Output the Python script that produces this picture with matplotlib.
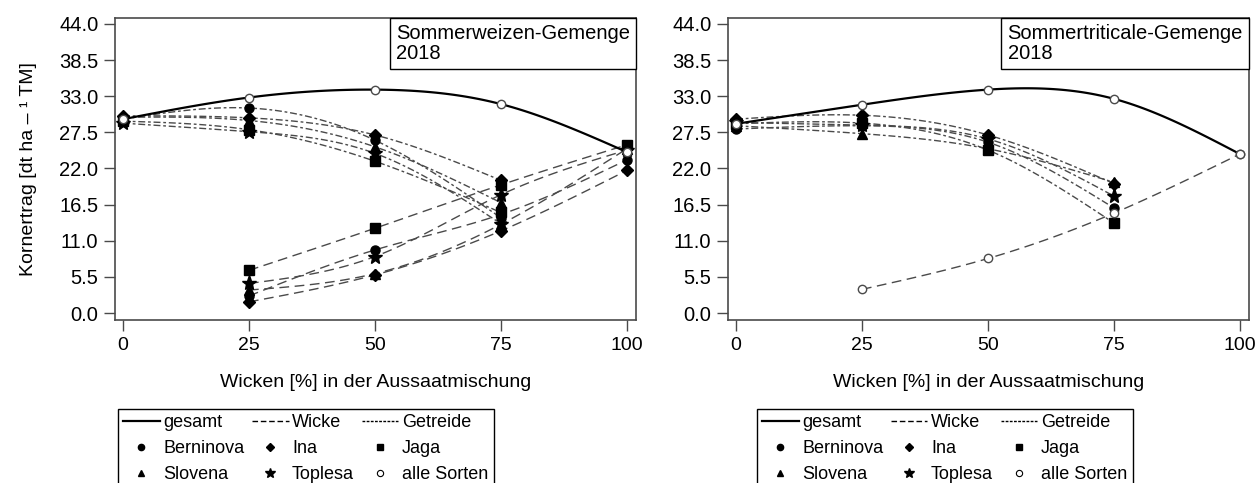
import numpy as np
import matplotlib
matplotlib.use("Agg")
import matplotlib.pyplot as plt
from matplotlib.lines import Line2D
from matplotlib.offsetbox import AnchoredText

plt.rcParams['font.family'] = ['Liberation Sans', 'DejaVu Sans']

# Wicken-Anteil in der Aussaatmischung [%]
anteil = [0, 25, 50, 75, 100]
sorten = ["Berninova", "Ina", "Jaga", "Slovena", "Toplesa"]
marker_sorte = {"Berninova": "o", "Ina": "D", "Jaga": "s", "Slovena": "^", "Toplesa": "*"}

# --- Sommerweizen-Gemenge 2018 ---
sw_gesamt = [29.5, 32.8, 34.0, 31.8, 24.5]
sw_getreide_x = [0, 25, 50, 75]
sw_getreide = {
    "Berninova": [29.5, 31.2, 26.3, 14.5],
    "Ina":       [30.0, 29.7, 27.1, 20.2],
    "Jaga":      [29.2, 27.9, 23.1, 15.3],
    "Slovena":   [29.8, 29.3, 25.3, 16.8],
    "Toplesa":   [28.9, 27.6, 24.3, 13.6],
}
sw_wicke_x = [25, 50, 75, 100]
sw_wicke = {
    "Berninova": [2.6, 9.6, 15.0, 23.3],
    "Ina":       [1.7, 5.8, 12.5, 21.7],
    "Jaga":      [6.5, 12.9, 19.5, 25.6],
    "Slovena":   [3.5, 6.0, 13.5, 25.0],
    "Toplesa":   [4.5, 8.6, 18.0, 24.8],
}

# --- Sommertriticale-Gemenge 2018 ---
st_gesamt = [28.8, 31.7, 34.0, 32.6, 24.2]
st_getreide_x = [0, 25, 50, 75]
st_getreide = {
    "Berninova": [28.0, 28.5, 26.0, 16.0],
    "Ina":       [29.5, 30.1, 27.1, 19.7],
    "Jaga":      [28.8, 28.9, 24.8, 13.7],
    "Slovena":   [28.5, 27.3, 25.0, 19.9],
    "Toplesa":   [29.0, 28.6, 26.5, 17.8],
}
st_wicke_x = [25, 50, 75, 100]
st_wicke_alle = [3.6, 8.3, 15.2, 24.2]

yticks = [0.0, 5.5, 11.0, 16.5, 22.0, 27.5, 33.0, 38.5, 44.0]

GRAU = "#4a4a4a"
WICKE_DASH = (7, 4)
GETREIDE_DASH = (5, 2, 2, 2)
FS = 14


def spline(x, y, n=120):
    # natuerlicher kubischer Spline durch die Punkte
    x = np.asarray(x, float)
    y = np.asarray(y, float)
    m = len(x)
    h = np.diff(x)
    A = np.zeros((m, m))
    r = np.zeros(m)
    A[0, 0] = A[-1, -1] = 1
    for i in range(1, m - 1):
        A[i, i - 1] = h[i - 1]
        A[i, i] = 2 * (h[i - 1] + h[i])
        A[i, i + 1] = h[i]
        r[i] = 3 * ((y[i + 1] - y[i]) / h[i] - (y[i] - y[i - 1]) / h[i - 1])
    c = np.linalg.solve(A, r)
    b = (y[1:] - y[:-1]) / h - h * (2 * c[:-1] + c[1:]) / 3
    d = (c[1:] - c[:-1]) / (3 * h)
    xs = np.linspace(x[0], x[-1], n)
    k = np.clip(np.searchsorted(x, xs, side="right") - 1, 0, m - 2)
    dx = xs - x[k]
    return xs, y[k] + b[k] * dx + c[k] * dx ** 2 + d[k] * dx ** 3


def gesamt_linie(ax, y):
    xs, ys = spline(anteil, y)
    ax.plot(xs, ys, color="black", lw=1.6, zorder=3)
    ax.plot(anteil, y, ls="none", marker="o", ms=6, mfc="white", mec=GRAU, mew=1, zorder=5)


def style(ax, titel):
    ax.set_xlim(-1.6, 101.8)
    ax.set_ylim(-1.06, 44.9)
    ax.set_xticks([0, 25, 50, 75, 100])
    ax.set_yticks(yticks)
    ax.set_yticklabels([f"{v:.1f}" for v in yticks])
    ax.tick_params(labelsize=FS, length=8, width=1, color=GRAU, direction="out", pad=4)
    ax.tick_params(axis="y", labelsize=14.5)
    for s in ax.spines.values():
        s.set_color(GRAU)
        s.set_linewidth(1.2)
    ax.set_xlabel("Wicken [%] in der Aussaatmischung", fontsize=FS, labelpad=15)
    at = AnchoredText(titel, loc="upper right", frameon=True, pad=0.3, borderpad=0,
                      prop=dict(fontsize=14.5, linespacing=1.05))
    at.patch.set_boxstyle("square,pad=0")
    at.patch.set_edgecolor("black")
    at.patch.set_linewidth(1)
    ax.add_artist(at)


fig = plt.figure(figsize=(12.59, 4.83), dpi=100)
ax1 = fig.add_axes([0.0913, 0.3375, 0.4138, 0.6252])
ax2 = fig.add_axes([0.5782, 0.3375, 0.4138, 0.6252])

# linkes Panel
gesamt_linie(ax1, sw_gesamt)
for s in sorten:
    xs, ys = spline(sw_getreide_x, sw_getreide[s])
    ax1.plot(xs, ys, color=GRAU, lw=1, dashes=GETREIDE_DASH, zorder=2)
    xs, ys = spline(sw_wicke_x, sw_wicke[s])
    ax1.plot(xs, ys, color=GRAU, lw=1, dashes=WICKE_DASH, zorder=2)
for s in sorten:
    ms = 11 if s == "Toplesa" else 6.5
    ax1.plot(sw_getreide_x, sw_getreide[s], ls="none", marker=marker_sorte[s], ms=ms, color="black", zorder=4)
    ax1.plot(sw_wicke_x, sw_wicke[s], ls="none", marker=marker_sorte[s], ms=ms, color="black", zorder=4)
style(ax1, "Sommerweizen-Gemenge\n2018")
ax1.set_ylabel("Kornertrag [dt ha \u2013 \u00b9 TM]", fontsize=FS, labelpad=16)

# rechtes Panel
gesamt_linie(ax2, st_gesamt)
for s in sorten:
    xs, ys = spline(st_getreide_x, st_getreide[s])
    ax2.plot(xs, ys, color=GRAU, lw=1, dashes=GETREIDE_DASH, zorder=2)
xs, ys = spline(st_wicke_x, st_wicke_alle)
ax2.plot(xs, ys, color=GRAU, lw=1, dashes=WICKE_DASH, zorder=2)
ax2.plot(st_wicke_x, st_wicke_alle, ls="none", marker="o", ms=6, mfc="white", mec=GRAU, mew=1, zorder=5)
for s in sorten:
    ms = 11 if s == "Toplesa" else 6.5
    ax2.plot(st_getreide_x, st_getreide[s], ls="none", marker=marker_sorte[s], ms=ms, color="black", zorder=4)
style(ax2, "Sommertriticale-Gemenge\n2018")


def legende(x0):
    h = [
        Line2D([], [], color="black", lw=1.6),
        Line2D([], [], ls="none", marker="o", ms=4.5, color="black"),
        Line2D([], [], ls="none", marker="^", ms=4.5, color="black"),
        Line2D([], [], color="black", lw=1, dashes=(4, 2)),
        Line2D([], [], ls="none", marker="D", ms=4.5, color="black"),
        Line2D([], [], ls="none", marker="*", ms=7, color="black"),
        Line2D([], [], color="black", lw=1, dashes=(2, 1)),
        Line2D([], [], ls="none", marker="s", ms=4.5, color="black"),
        Line2D([], [], ls="none", marker="o", ms=4.5, mfc="white", mec="black", mew=0.8),
    ]
    l = ["gesamt", "Berninova", "Slovena", "Wicke", "Ina", "Toplesa",
         "Getreide", "Jaga", "alle Sorten"]
    fig.legend(h, l, loc="upper left", bbox_to_anchor=(x0, 1 - 409 / 483),
               ncol=3, fontsize=13, frameon=True, fancybox=False,
               edgecolor="black", framealpha=1, handlelength=2.0,
               handletextpad=0.2, columnspacing=0.45, labelspacing=0.5,
               borderpad=0.3, borderaxespad=0)


legende(118 / 1259)
legende(757 / 1259)

fig.savefig("out.png", dpi=100)
